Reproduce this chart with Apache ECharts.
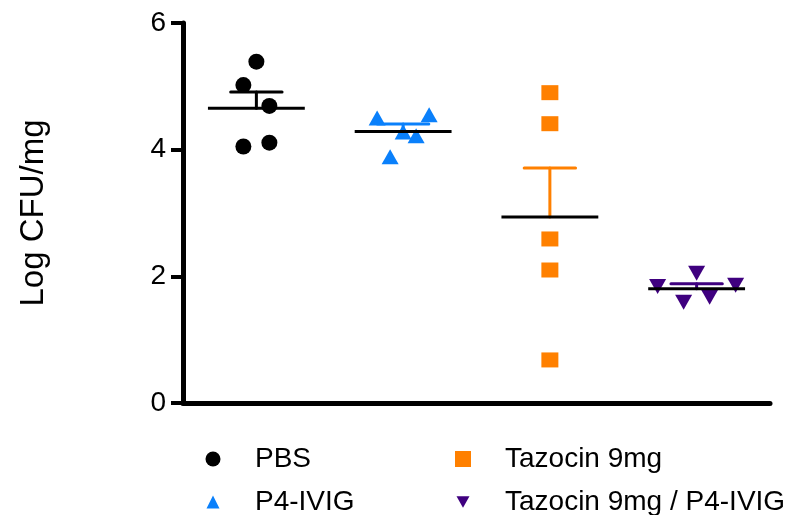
<!DOCTYPE html>
<html>
<head>
<meta charset="utf-8">
<script src="https://cdn.jsdelivr.net/npm/echarts@6/dist/echarts.min.js"></script>
<style>
  html, body { margin: 0; padding: 0; background: #fff; }
  #main { width: 803px; height: 515px; }
</style>
</head>
<body>
<div id="main"></div>
<script>
// groups on the x axis
const groups = ['PBS', 'P4-IVIG', 'Tazocin 9mg', 'Tazocin 9mg / P4-IVIG'];
// Log CFU/mg of every animal
const pbs = [5.39, 5.02, 4.69, 4.05, 4.11];
const p4ivig = [4.50, 4.55, 4.28, 4.22, 3.89];
const tazocin = [4.90, 4.41, 2.59, 2.10, 0.68];
const tazocinP4 = [1.84, 2.05, 1.86, 1.59, 1.67];
// column slot of each dot inside its group (scatter spread of the dot plot)
const pbsSlot = [0, -1, 1, -1, 1];
const p4ivigSlot = [-2, 2, 0, 1, -1];
const tazocinSlot = [0, 0, 0, 0, 0];
const tazocinP4Slot = [-3, 0, 3, -1, 1];
const yTicks = [0, 2, 4, 6];

const colors = ['#000000', '#0a80fb', '#ff8000', '#3f007f'];
const symbols = ['circle', 'triangle', 'rect', 'path://M0,0L2,0L1,1.8Z'];
const sizes = [16, [17, 15], [17, 15], [17, 15]];
const legendIcon = [15, 13, 16, 13];
const slotPx = 13;
const font = '"Liberation Sans", Arial, sans-serif';

const values = [pbs, p4ivig, tazocin, tazocinP4];
const slots = [pbsSlot, p4ivigSlot, tazocinSlot, tazocinP4Slot];

// mean and SEM per group
function meanSem(arr) {
    const n = arr.length;
    const m = arr.reduce((a, b) => a + b, 0) / n;
    const sd = Math.sqrt(arr.reduce((a, b) => a + (b - m) * (b - m), 0) / (n - 1));
    return [m, sd / Math.sqrt(n)];
}
const stats = values.map(meanSem);

const chart = echarts.init(document.getElementById('main'));

const scatterSeries = groups.map((g, gi) => ({
    name: g,
    type: 'scatter',
    symbol: symbols[gi],
    symbolSize: sizes[gi],
    itemStyle: { color: colors[gi], opacity: 1 },
    z: 2,
    data: values[gi].map((v, i) => ({
        value: [gi, v],
        symbolOffset: [slots[gi][i] * slotPx, 0]
    }))
}));

// mean line (black) + upper SEM bar in the group colour
const errSeries = {
    type: 'custom',
    z: 5,
    silent: true,
    encode: { x: 0, y: 1 },
    data: stats.map((s, i) => [i, s[0], s[1]]),
    renderItem: function (params, api) {
        const idx = api.value(0);
        const mean = api.value(1);
        const sem = api.value(2);
        const p = api.coord([idx, mean]);
        const top = api.coord([idx, mean + sem]);
        const band = api.size([1, 0])[0];
        const c = colors[idx];
        const halfMean = band * 0.33;
        const halfCap = band * 0.175;
        return {
            type: 'group',
            children: [
                { type: 'line', shape: { x1: p[0], y1: p[1], x2: p[0], y2: top[1] },
                  style: { stroke: c, lineWidth: 3, lineCap: 'round' } },
                { type: 'line', shape: { x1: p[0] - halfCap, y1: top[1], x2: p[0] + halfCap, y2: top[1] },
                  style: { stroke: c, lineWidth: 3, lineCap: 'round' } },
                { type: 'line', shape: { x1: p[0] - halfMean, y1: p[1], x2: p[0] + halfMean, y2: p[1] },
                  style: { stroke: '#000', lineWidth: 3 } }
            ]
        };
    }
};

// one legend per entry, laid out as a 2 x 2 block
const legendLeft = [205, 205, 455, 455];
const legendTop = [445, 488, 445, 488];
const legends = groups.map((g, i) => ({
    data: [g],
    left: legendLeft[i] + (16 - legendIcon[i]) / 2,
    top: legendTop[i],
    padding: 0,
    itemWidth: legendIcon[i],
    itemHeight: legendIcon[i],
    selectedMode: false,
    textStyle: {
        fontSize: 28, fontFamily: font, color: '#000',
        padding: [0, 0, 0, 29 + (16 - legendIcon[i]) / 2]
    }
}));

chart.setOption({
    animation: false,
    grid: { left: 183, right: 33, top: 23, bottom: 112, containLabel: false },
    xAxis: {
        type: 'category',
        data: groups,
        boundaryGap: true,
        axisLine: { lineStyle: { color: '#000', width: 5 } },
        axisTick: { show: false },
        axisLabel: { show: false },
        splitLine: { show: false }
    },
    yAxis: {
        type: 'value',
        min: yTicks[0],
        max: yTicks[yTicks.length - 1],
        interval: 2,
        name: 'Log CFU/mg',
        nameLocation: 'middle',
        nameGap: 133,
        nameTextStyle: { fontSize: 33, fontFamily: font, color: '#000' },
        axisLine: { show: true, lineStyle: { color: '#000', width: 5 } },
        axisTick: { show: true, length: 12, lineStyle: { color: '#000', width: 4 } },
        axisLabel: { fontSize: 28, fontFamily: font, color: '#000', margin: 17 },
        splitLine: { show: false }
    },
    legend: legends,
    series: scatterSeries.concat([errSeries])
});
</script>
</body>
</html>
